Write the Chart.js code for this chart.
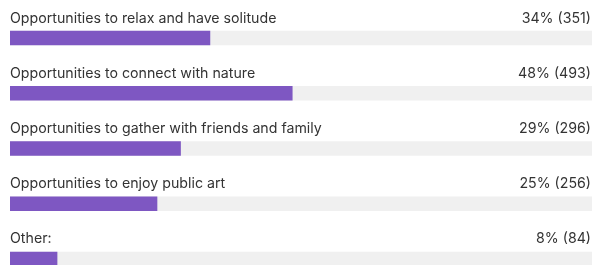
<!DOCTYPE html>
<html>
<head>
<meta charset="utf-8">
<script src="https://cdn.jsdelivr.net/npm/chart.js@4"></script>
<style>
  html, body { margin: 0; padding: 0; background: #fff; overflow: hidden; }
  #wrap { width: 600px; height: 290px; }
</style>
</head>
<body>
<div id="wrap"><canvas id="surveyChart" width="600" height="290"></canvas></div>
<script>
const categories = [
    'Opportunities to relax and have solitude',
    'Opportunities to connect with nature',
    'Opportunities to gather with friends and family',
    'Opportunities to enjoy public art',
    'Other:'
];
const percentages = [34, 48, 29, 25, 8];
const counts = [351, 493, 296, 256, 84];
const trackValues = [100, 100, 100, 100, 100];

// labels above each bar: name on the left, share and count on the right
const rowLabels = {
    id: 'rowLabels',
    afterDatasetsDraw(chart) {
        const ctx = chart.ctx;
        const area = chart.chartArea;
        const meta = chart.getDatasetMeta(0);
        ctx.save();
        ctx.font = '14.2px Inter, "Liberation Sans", sans-serif';
        ctx.fillStyle = '#333333';
        ctx.textBaseline = 'alphabetic';
        meta.data.forEach((bar, i) => {
            const y = bar.y - 15.5;
            ctx.textAlign = 'left';
            ctx.fillText(categories[i], area.left, y);
            ctx.textAlign = 'right';
            ctx.fillText(percentages[i] + '% (' + counts[i] + ')', 591, y);
        });
        ctx.restore();
    }
};

const ctx = document.getElementById('surveyChart').getContext('2d');
new Chart(ctx, {
    type: 'bar',
    data: {
        labels: categories,
        datasets: [{
            data: percentages,
            backgroundColor: '#7e57c2',
            barThickness: 14,
            grouped: false,
            order: 1
        }, {
            data: trackValues,
            backgroundColor: '#f0f0f0',
            barThickness: 14,
            grouped: false,
            order: 2
        }]
    },
    options: {
        indexAxis: 'y',
        responsive: false,
        animation: false,
        layout: { padding: { left: 10, right: 2, top: 10.4, bottom: 3.4 } },
        plugins: { legend: { display: false }, tooltip: { enabled: false } },
        scales: {
            x: { display: false, min: 0, max: 100 },
            y: { display: false }
        }
    },
    plugins: [rowLabels]
});
</script>
</body>
</html>
